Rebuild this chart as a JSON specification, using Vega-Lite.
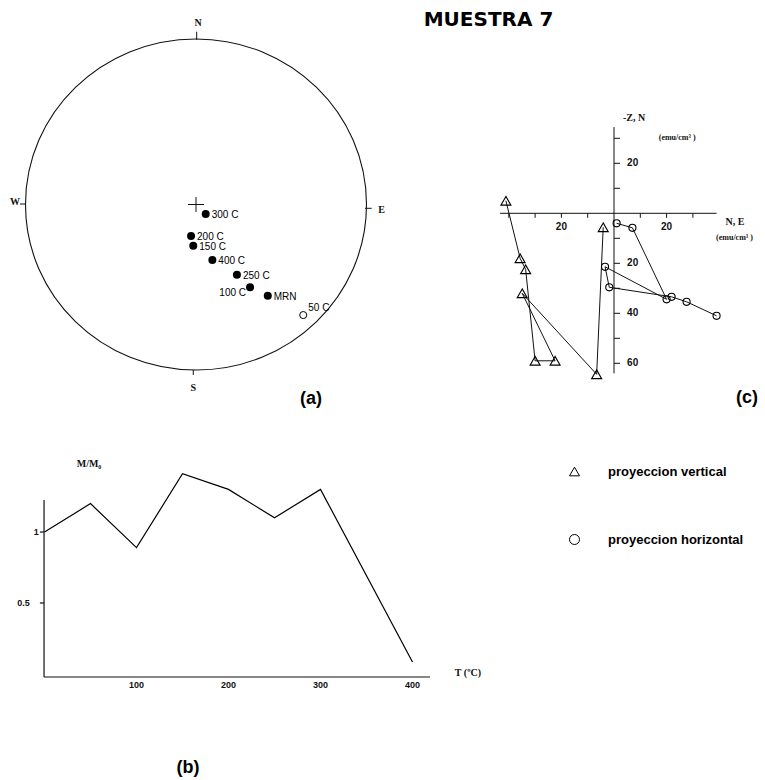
{
  "$schema": "https://vega.github.io/schema/vega-lite/v6.json",
  "width": 765,
  "height": 780,
  "autosize": "none",
  "padding": 0,
  "background": "white",
  "config": {
    "view": {"stroke": null},
    "axis": {"disable": true},
    "font": "Liberation Sans"
  },
  "title": {
    "text": "MUESTRA 7",
    "font": "DejaVu Sans",
    "fontSize": 20,
    "fontWeight": "bold",
    "color": "black",
    "anchor": "middle",
    "frame": "group",
    "dx": 106,
    "offset": -30
  },
  "datasets": {
    "direcciones": [
      {"paso": "300 C", "hemisferio": "inferior", "x": 0.057, "y": -0.057},
      {"paso": "200 C", "hemisferio": "inferior", "x": -0.029, "y": -0.19},
      {"paso": "150 C", "hemisferio": "inferior", "x": -0.016, "y": -0.249},
      {"paso": "400 C", "hemisferio": "inferior", "x": 0.096, "y": -0.335},
      {"paso": "250 C", "hemisferio": "inferior", "x": 0.24, "y": -0.424},
      {"paso": "100 C", "hemisferio": "inferior", "x": 0.317, "y": -0.5},
      {"paso": "MRN", "hemisferio": "inferior", "x": 0.421, "y": -0.551},
      {"paso": "50 C", "hemisferio": "superior", "x": 0.629, "y": -0.668}
    ],
    "red_trazos": [
      {"x": 0.004, "y": 0.994, "x2": 0.004, "y2": 1.044},
      {"x": -0.016, "y": -1.0, "x2": -0.016, "y2": -1.03},
      {"x": -0.997, "y": 0.003, "x2": -1.032, "y2": 0.003},
      {"x": 0.991, "y": -0.023, "x2": 1.03, "y2": -0.023},
      {"x": -0.047, "y": 0, "x2": 0.047, "y2": 0},
      {"x": 0, "y": -0.045, "x2": 0, "y2": 0.045}
    ],
    "red_letras": [
      {"x": 0.012, "y": 1.095, "texto": "N"},
      {"x": -0.016, "y": -1.11, "texto": "S"},
      {"x": -1.062, "y": 0.017, "texto": "W"},
      {"x": 1.089, "y": -0.033, "texto": "E"}
    ],
    "intensidad": [
      {"temperatura": 0, "m_m0": 1.0},
      {"temperatura": 50, "m_m0": 1.2},
      {"temperatura": 100, "m_m0": 0.89},
      {"temperatura": 150, "m_m0": 1.41},
      {"temperatura": 200, "m_m0": 1.3},
      {"temperatura": 250, "m_m0": 1.1},
      {"temperatura": 300, "m_m0": 1.3},
      {"temperatura": 400, "m_m0": 0.085}
    ],
    "b_ejes": [
      {"x": -0.5, "y": -0.021, "x2": -0.5, "y2": 1.225},
      {"x": -0.5, "y": -0.021, "x2": 419, "y2": -0.021},
      {"x": -5, "y": 1, "x2": -0.5, "y2": 1},
      {"x": -5, "y": 0.5, "x2": -0.5, "y2": 0.5}
    ],
    "b_marcas": [
      {"x": -9, "y": 1, "texto": "1"},
      {"x": -22.8, "y": 0.5, "texto": "0.5"},
      {"x": 100, "y": -0.077, "texto": "100"},
      {"x": 200, "y": -0.077, "texto": "200"},
      {"x": 300, "y": -0.077, "texto": "300"},
      {"x": 400, "y": -0.077, "texto": "400"}
    ],
    "b_titulos": [
      {"x": 35, "y": 1.479, "texto": "M/M₀"},
      {"x": 446, "y": 0.01, "texto": "T (ºC)"}
    ],
    "zijderveld": [
      {"serie": "proyeccion vertical", "orden": 1, "x": -41.1, "y": 5.0},
      {"serie": "proyeccion vertical", "orden": 2, "x": -35.7, "y": -18.0},
      {"serie": "proyeccion vertical", "orden": 3, "x": -33.6, "y": -22.4},
      {"serie": "proyeccion vertical", "orden": 4, "x": -30.0, "y": -59.0},
      {"serie": "proyeccion vertical", "orden": 5, "x": -22.4, "y": -59.0},
      {"serie": "proyeccion vertical", "orden": 6, "x": -34.9, "y": -32.0},
      {"serie": "proyeccion vertical", "orden": 7, "x": -6.6, "y": -64.4},
      {"serie": "proyeccion vertical", "orden": 8, "x": -4.1, "y": -5.6},
      {"serie": "proyeccion horizontal", "orden": 1, "x": 1.0, "y": -4.0},
      {"serie": "proyeccion horizontal", "orden": 2, "x": 7.0, "y": -5.8},
      {"serie": "proyeccion horizontal", "orden": 3, "x": 20.0, "y": -34.4},
      {"serie": "proyeccion horizontal", "orden": 4, "x": -3.4, "y": -21.4},
      {"serie": "proyeccion horizontal", "orden": 5, "x": -1.8, "y": -29.6},
      {"serie": "proyeccion horizontal", "orden": 6, "x": 21.9, "y": -33.4},
      {"serie": "proyeccion horizontal", "orden": 7, "x": 27.6, "y": -35.4},
      {"serie": "proyeccion horizontal", "orden": 8, "x": 39.0, "y": -41.0}
    ],
    "c_ejes": [
      {"x": -43.3, "y": 0, "x2": 39, "y2": 0},
      {"x": 0, "y": 34.5, "x2": 0, "y2": -64},
      {"x": 0, "y": 30, "x2": 2.3, "y2": 30},
      {"x": 0, "y": 20, "x2": 2.3, "y2": 20},
      {"x": 0, "y": 10, "x2": 2.3, "y2": 10},
      {"x": 0, "y": -10, "x2": 2.3, "y2": -10},
      {"x": 0, "y": -20, "x2": 2.3, "y2": -20},
      {"x": 0, "y": -30, "x2": 2.3, "y2": -30},
      {"x": 0, "y": -40, "x2": 2.3, "y2": -40},
      {"x": 0, "y": -50, "x2": 2.3, "y2": -50},
      {"x": 0, "y": -60, "x2": 2.3, "y2": -60},
      {"x": -40, "y": 0, "x2": -40, "y2": -1.8},
      {"x": -30, "y": 0, "x2": -30, "y2": -1.8},
      {"x": -20, "y": 0, "x2": -20, "y2": -1.8},
      {"x": -10, "y": 0, "x2": -10, "y2": -1.8},
      {"x": 10, "y": 0, "x2": 10, "y2": -1.8},
      {"x": 20, "y": 0, "x2": 20, "y2": -1.8},
      {"x": 30, "y": 0, "x2": 30, "y2": -1.8}
    ],
    "c_marcas": [
      {"x": 7.1, "y": 20, "texto": "20"},
      {"x": 7.1, "y": -20, "texto": "20"},
      {"x": 7.1, "y": -40, "texto": "40"},
      {"x": 7.1, "y": -60, "texto": "60"},
      {"x": -20, "y": -5.5, "texto": "20"},
      {"x": 20, "y": -5.5, "texto": "20"}
    ],
    "c_titulos": [
      {"rol": "eje", "x": 7.6, "y": 38.2, "texto": "-Z, N"},
      {"rol": "unidad", "x": 24, "y": 30.1, "texto": "(emu/cm³ )"},
      {"rol": "eje", "x": 46, "y": -3.5, "texto": "N, E"},
      {"rol": "unidad", "x": 45.8, "y": -10, "texto": "(emu/cm³ )"}
    ]
  },
  "layer": [
    {
      "encoding": {
        "x": {"field": "x", "type": "quantitative", "scale": {"domain": [-1, 1], "range": [25.5, 366.5], "nice": false, "zero": false}},
        "y": {"field": "y", "type": "quantitative", "scale": {"domain": [-1, 1], "range": [370, 39], "nice": false, "zero": false}}
      },
      "layer": [
        {
          "data": {"values": [{"x": 0, "y": 0}]},
          "mark": {"type": "point", "shape": "M-1,0A1,0.971,0,1,0,1,0A1,0.971,0,1,0,-1,0Z", "size": 116281, "filled": false, "stroke": "#111", "strokeWidth": 1.1, "opacity": 1}
        },
        {
          "data": {"name": "red_trazos"},
          "mark": {"type": "rule", "stroke": "#111", "strokeWidth": 1},
          "encoding": {"x2": {"field": "x2"}, "y2": {"field": "y2"}}
        },
        {
          "data": {"name": "red_letras"},
          "mark": {"type": "text", "font": "Liberation Serif", "fontWeight": "bold", "fontSize": 10, "baseline": "middle", "align": "center", "color": "#111"},
          "encoding": {"text": {"field": "texto"}}
        },
        {
          "data": {"name": "direcciones"},
          "transform": [{"filter": "datum.hemisferio === 'inferior'"}],
          "mark": {"type": "point", "shape": "circle", "filled": true, "fill": "black", "size": 64, "opacity": 1}
        },
        {
          "data": {"name": "direcciones"},
          "transform": [{"filter": "datum.hemisferio === 'superior'"}],
          "mark": {"type": "point", "shape": "circle", "filled": false, "stroke": "black", "strokeWidth": 1, "size": 50, "opacity": 1}
        },
        {
          "data": {"name": "direcciones"},
          "transform": [{"filter": "datum.paso !== '100 C' && datum.paso !== '50 C'"}],
          "mark": {"type": "text", "align": "left", "baseline": "middle", "dx": 6, "dy": 1, "fontSize": 10, "color": "black"},
          "encoding": {"text": {"field": "paso"}}
        },
        {
          "data": {"name": "direcciones"},
          "transform": [{"filter": "datum.paso === '100 C'"}],
          "mark": {"type": "text", "align": "right", "baseline": "middle", "dx": -4, "dy": 6, "fontSize": 10, "color": "black"},
          "encoding": {"text": {"field": "paso"}}
        },
        {
          "data": {"name": "direcciones"},
          "transform": [{"filter": "datum.paso === '50 C'"}],
          "mark": {"type": "text", "align": "left", "baseline": "middle", "dx": 5, "dy": -7, "fontSize": 10, "color": "black"},
          "encoding": {"text": {"field": "paso"}}
        },
        {
          "data": {"values": [{"x": 0.674, "y": -1.175, "texto": "(a)"}]},
          "mark": {"type": "text", "align": "center", "baseline": "middle", "fontSize": 18, "fontWeight": "bold", "color": "black"},
          "encoding": {"text": {"field": "texto"}}
        }
      ]
    },
    {
      "encoding": {
        "x": {"field": "x", "type": "quantitative", "scale": {"domain": [0, 400], "range": [44.5, 412.5], "nice": false, "zero": false}},
        "y": {"field": "y", "type": "quantitative", "scale": {"domain": [0, 1], "range": [674, 532], "nice": false, "zero": false}}
      },
      "layer": [
        {
          "data": {"name": "b_ejes"},
          "mark": {"type": "rule", "stroke": "#111", "strokeWidth": 1.2},
          "encoding": {"x2": {"field": "x2"}, "y2": {"field": "y2"}}
        },
        {
          "data": {"name": "intensidad"},
          "mark": {"type": "line", "stroke": "black", "strokeWidth": 1.2},
          "encoding": {
            "x": {"field": "temperatura", "type": "quantitative"},
            "y": {"field": "m_m0", "type": "quantitative"}
          }
        },
        {
          "data": {"name": "b_marcas"},
          "mark": {"type": "text", "align": "center", "baseline": "middle", "fontSize": 9, "fontWeight": "bold", "color": "#111"},
          "encoding": {"text": {"field": "texto"}}
        },
        {
          "data": {"name": "b_titulos"},
          "mark": {"type": "text", "align": "left", "baseline": "middle", "font": "Liberation Serif", "fontSize": 10, "fontWeight": "bold", "color": "#111"},
          "encoding": {"text": {"field": "texto"}}
        },
        {
          "data": {"values": [{"x": 156, "y": -0.662, "texto": "(b)"}]},
          "mark": {"type": "text", "align": "center", "baseline": "middle", "fontSize": 18, "fontWeight": "bold", "color": "black"},
          "encoding": {"text": {"field": "texto"}}
        }
      ]
    },
    {
      "encoding": {
        "x": {"field": "x", "type": "quantitative", "scale": {"domain": [-40, 40], "range": [508.8, 719.2], "nice": false, "zero": false}},
        "y": {"field": "y", "type": "quantitative", "scale": {"domain": [-60, 20], "range": [363.3, 163.3], "nice": false, "zero": false}}
      },
      "layer": [
        {
          "data": {"name": "c_ejes"},
          "mark": {"type": "rule", "stroke": "#111", "strokeWidth": 1},
          "encoding": {"x2": {"field": "x2"}, "y2": {"field": "y2"}}
        },
        {
          "data": {"name": "zijderveld"},
          "mark": {"type": "line", "stroke": "#111", "strokeWidth": 1},
          "encoding": {
            "detail": {"field": "serie"},
            "order": {"field": "orden", "type": "quantitative"}
          }
        },
        {
          "data": {"name": "zijderveld"},
          "transform": [{"filter": "datum.serie === 'proyeccion vertical'"}],
          "mark": {"type": "point", "filled": false, "stroke": "black", "strokeWidth": 1.1, "size": 100, "opacity": 1},
          "encoding": {
            "shape": {
              "field": "serie", "type": "nominal",
              "scale": {"domain": ["proyeccion vertical", "proyeccion horizontal"], "range": ["triangle-up", "circle"]},
              "legend": {"orient": "none", "legendX": 568, "legendY": 465, "title": null, "padding": 0, "symbolSize": 100, "symbolStrokeColor": "black", "symbolFillColor": "white", "symbolStrokeWidth": 1, "symbolOpacity": 1, "labelFont": "Liberation Sans", "labelFontSize": 13, "labelFontWeight": "bold", "labelColor": "black", "labelOffset": 27, "rowPadding": 53,
                "encode": {"symbols": {"update": {"stroke": {"value": "black"}, "fill": {"value": "white"}, "strokeWidth": {"value": 1}, "opacity": {"value": 1}}}}}
            }
          }
        },
        {
          "data": {"name": "zijderveld"},
          "transform": [{"filter": "datum.serie === 'proyeccion horizontal'"}],
          "mark": {"type": "point", "filled": false, "stroke": "black", "strokeWidth": 1.1, "size": 50, "opacity": 1},
          "encoding": {
            "shape": {
              "field": "serie", "type": "nominal",
              "scale": {"domain": ["proyeccion vertical", "proyeccion horizontal"], "range": ["triangle-up", "circle"]},
              "legend": {"orient": "none", "legendX": 568, "legendY": 465, "title": null, "padding": 0, "symbolSize": 100, "symbolStrokeColor": "black", "symbolFillColor": "white", "symbolStrokeWidth": 1, "symbolOpacity": 1, "labelFont": "Liberation Sans", "labelFontSize": 13, "labelFontWeight": "bold", "labelColor": "black", "labelOffset": 27, "rowPadding": 53,
                "encode": {"symbols": {"update": {"stroke": {"value": "black"}, "fill": {"value": "white"}, "strokeWidth": {"value": 1}, "opacity": {"value": 1}}}}}
            }
          }
        },
        {
          "data": {"name": "c_marcas"},
          "mark": {"type": "text", "align": "center", "baseline": "middle", "fontSize": 10, "fontWeight": "bold", "color": "#111"},
          "encoding": {"text": {"field": "texto"}}
        },
        {
          "data": {"name": "c_titulos"},
          "transform": [{"filter": "datum.rol === 'eje'"}],
          "mark": {"type": "text", "align": "center", "baseline": "middle", "font": "Liberation Serif", "fontSize": 10, "fontWeight": "bold", "color": "#111"},
          "encoding": {"text": {"field": "texto"}}
        },
        {
          "data": {"name": "c_titulos"},
          "transform": [{"filter": "datum.rol === 'unidad'"}],
          "mark": {"type": "text", "align": "center", "baseline": "middle", "font": "Liberation Serif", "fontSize": 8, "fontWeight": "bold", "color": "#111"},
          "encoding": {"text": {"field": "texto"}}
        },
        {
          "data": {"values": [{"x": 50.6, "y": -74, "texto": "(c)"}]},
          "mark": {"type": "text", "align": "center", "baseline": "middle", "fontSize": 18, "fontWeight": "bold", "color": "black"},
          "encoding": {"text": {"field": "texto"}}
        }
      ]
    }
  ],
  "resolve": {"scale": {"x": "independent", "y": "independent"}}
}
